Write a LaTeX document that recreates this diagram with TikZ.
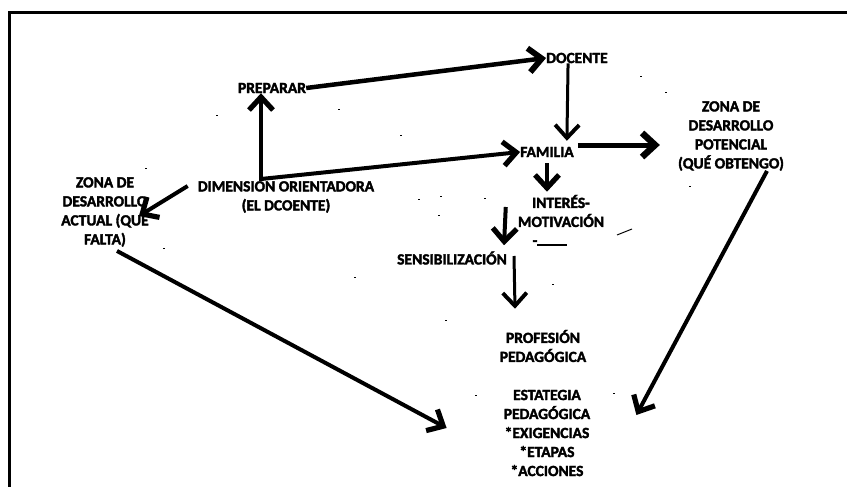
\documentclass[tikz,border=0pt]{standalone}
\usepackage{fontspec}
\setmainfont{Carlito}
\newfontfamily\lblfont[FakeBold=2.2]{Carlito Bold}
\usetikzlibrary{arrows.meta,calc}
\begin{document}
\begin{tikzpicture}[x=1pt,y=-1pt,
  lbl/.style={inner sep=0pt,align=center,font=\lblfont\fontsize{15.5}{19}\selectfont},
  tip/.tip={Straight Barb[length=13pt,width=24pt,line width=0pt 1.3]},
  arr/.style={line width=4pt,-tip},
  thinarr/.style={line width=3pt,-tip},
  speck/.style={line width=1pt}]
\useasboundingbox (0,0) rectangle (847,487);
\fill[white] (0,0) rectangle (847,487);
\draw[line width=3pt] (9.5,487) -- (9.5,12.5) -- (847,12.5);

\node[lbl] (prep) at (272,88) {PREPARAR};
\node[lbl] (doc) at (577,58) {DOCENTE};
\node[lbl] (fam) at (547,152) {FAMILIA};
\node[lbl] (pot) at (731,136) {ZONA DE\\DESARROLLO\\POTENCIAL\\(QUÉ OBTENGO)};
\node[lbl] (dim) at (286,197) {DIMENSION ORIENTADORA\\(EL DCOENTE)};
\node[lbl] (act) at (105,212) {ZONA DE\\DESARROLLO\\ACTUAL (QUÉ\\FALTA)};
\node[lbl] (int) at (561,211) {INTERÉS-\\MOTIVACIÓN};
\node[lbl] (dash) at (550,243) {-\rule{30pt}{1.2pt}};
\node[lbl] (sens) at (452,258) {SENSIBILIZACIÓN};
\node[lbl] (prof) at (543,346) {PROFESIÓN\\PEDAGÓGICA};
\node[lbl] (est) at (547,433) {ESTATEGIA\\PEDAGÓGICA\\*EXIGENCIAS\\*ETAPAS\\*ACCIONES};

\coordinate (corner) at (261,179);

\draw[arr,line width=4.5pt] (prep.east) -- (doc.west);
\draw[thinarr] ($(doc.south west)+(22,0)$) -- ($(fam.north east)+(-7,-6)$);
\draw[arr,-] (corner |- dim.north) -- (corner);
\draw[arr] (corner) -- (corner |- prep.south);
\draw[arr] (corner) -- (fam.west);
\draw[arr,line width=5pt] ($(fam.east)+(4,-7)$) -- ($(pot.west)+(-18,9)$);
\draw[arr] ($(fam.south)+(0,6)$) -- ($(int.north)+(-14,-3)$);
\draw[arr] ($(int.west)+(-12,-4)$) -- ($(sens.north east)+(-3,-6)$);
\draw[thinarr] ($(sens.east)+(7,-2)$) -- ($(prof.north)+(-28,-21)$);
\draw[arr] ($(pot.south)+(36,0)$) -- ($(est.east)+(46,-18)$);
\draw[arr] ($(act.south)+(12,4)$) -- ($(est.west)+(-57,-5)$);
\draw[arr] ($(dim.west)+(-10,-11)$) -- ($(act.east)+(-10,4)$);

% scan specks
\foreach \p in {(216,116),(338,110),(400,135),(418,199),(440,196),(484,198),(438,215),
  (552,284),(445,320),(475,395),(613,393),(640,77),(665,93),(689,186),(163,248),(145,168),(354,277)}
  \draw[speck] \p -- ++(2,0);
\draw[speck] (617,235) -- (632,229);
\end{tikzpicture}
\end{document}
